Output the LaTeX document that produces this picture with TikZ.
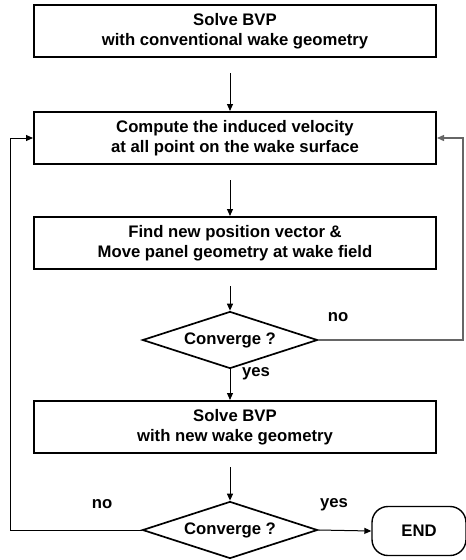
\documentclass[tikz,border=0pt]{standalone}
\usepackage{fontspec}
\setmainfont{Liberation Sans}
\usetikzlibrary{shapes.geometric,arrows.meta}
\begin{document}
\begin{tikzpicture}[x=1pt,y=-1pt,
  font=\fontsize{16.7}{20}\selectfont\bfseries,
  stepbox/.style={draw, line width=2pt, minimum width=402pt, minimum height=52pt,
    inner sep=0pt, align=center},
  decision/.style={draw, diamond, line width=1.7pt, aspect=3, minimum width=175pt,
    minimum height=57pt, inner sep=0pt},
  terminal/.style={draw, rounded corners=16pt, line width=1.4pt, minimum width=94pt,
    minimum height=49pt, inner sep=0pt},
  flow/.style={line width=1pt, -{Triangle[length=7pt,width=6pt]}},
  loopback/.style={flow, draw=black!60, line width=1.3pt},
  tag/.style={inner sep=0pt}
]
\useasboundingbox (0,0) rectangle (466,560);

\node[stepbox] (b1) at (235,31) {Solve BVP\\with conventional wake geometry};
\node[stepbox] (b2) at (235,138) {Compute the induced velocity\\at all point on the wake surface};
\node[stepbox] (b3) at (235,243) {Find new position vector \&\\Move panel geometry at wake field};
\node[decision] (d1) at (230,340) {Converge ?};
\node[stepbox] (b4) at (235,427) {Solve BVP\\with new wake geometry};
\node[decision] (d2) at (230,530) {Converge ?};
\node[terminal] (e) at (419,531) {END};

\coordinate (r1) at (463,340);
\coordinate (l1) at (10,530);

% main downward flow
\draw[flow, shorten <=15pt] (b1.south -| d1) -- (b2.north -| d1);
\draw[flow, shorten <=15pt] (b2.south -| d1) -- (b3.north -| d1);
\draw[flow, shorten <=16pt] (b3.south -| d1) -- (d1.north);
\draw[flow] (d1.south) -- (b4.north -| d1);
\draw[flow, shorten <=13pt] (b4.south -| d1) -- (d2.north);
\draw[flow] (d2.east) -- (e.west);

% feedback loops
\draw[loopback] (d1.east) -- (r1) |- (b2.east);
\draw[flow] (d2.west) -- (l1) |- (b2.west);

% branch labels
\node[tag] (n1) at (338,317) {no};
\node[tag] (y1) at (256,374) {yes};
\node[tag] (n2) at (102,504) {no};
\node[tag] (y2) at (334,505) {yes};
\end{tikzpicture}
\end{document}
